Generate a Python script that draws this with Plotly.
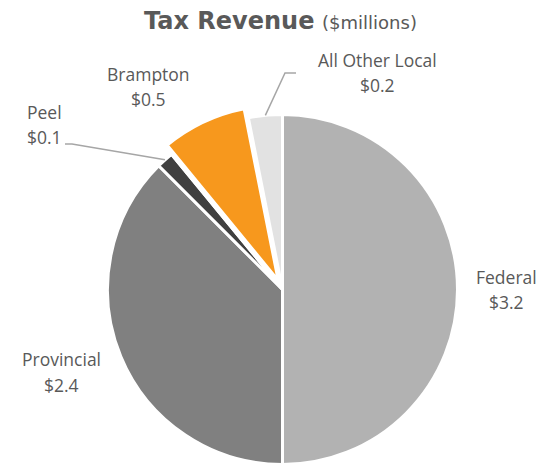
import math
import plotly.graph_objects as go

# ---- data ----
categories = ["Federal", "Provincial", "Peel", "Brampton", "All Other Local"]
values = [3.2, 2.4, 0.1, 0.5, 0.2]
value_labels = ["$3.2", "$2.4", "$0.1", "$0.5", "$0.2"]
colors = ["#B2B2B2", "#808080", "#404040", "#F7981D", "#E2E2E2"]
exploded = "Brampton"

W, H = 541, 467
CX, CY, R = 282.5, 289.5, 175.0
PULL_PX = 10.0
TEXT = "#595959"
FONT = "Open Sans, Segoe UI, sans-serif"

def px(x):
    return x / W

def py(y):
    return 1 - y / H

def domain(cx, cy, r):
    return dict(x=[px(cx - r), px(cx + r)], y=[py(cy + r), py(cy - r)])

total = sum(values)
angles = []
acc = 0.0
for v in values:
    a0 = acc / total * 360
    acc += v
    a1 = acc / total * 360
    angles.append((a0, a1))

def edge_point(i, r=R, cx=CX, cy=CY):
    a0, a1 = angles[i]
    m = math.radians((a0 + a1) / 2)
    return cx + r * math.sin(m), cy - r * math.cos(m)

ei = categories.index(exploded)
em = math.radians(sum(angles[ei]) / 2)
ecx = CX + PULL_PX * math.sin(em)
ecy = CY - PULL_PX * math.cos(em)

base_colors = [c if n != exploded else "rgba(0,0,0,0)" for n, c in zip(categories, colors)]
top_colors = [c if n == exploded else "rgba(0,0,0,0)" for n, c in zip(categories, colors)]
top_lines = ["white" if n == exploded else "rgba(0,0,0,0)" for n in categories]

fig = go.Figure()
fig.add_trace(go.Pie(
    labels=categories, values=values, sort=False, direction="clockwise", rotation=0,
    marker=dict(colors=base_colors, line=dict(color="white", width=3)),
    textinfo="none", hoverinfo="skip", showlegend=False,
    domain=domain(CX, CY, R),
))
fig.add_trace(go.Pie(
    labels=categories, values=values, sort=False, direction="clockwise", rotation=0,
    marker=dict(colors=top_colors, line=dict(color=top_lines, width=3)),
    textinfo="none", hoverinfo="skip", showlegend=False,
    domain=domain(ecx, ecy, R),
))

label_pos = {
    "Federal": (506, 277, 302),
    "Provincial": (62, 359, 385),
    "Peel": (44, 112, 137),
    "Brampton": (148, 74, 99),
    "All Other Local": (377, 60, 85),
}
annotations = []
for name, val in zip(categories, value_labels):
    x, y1, y2 = label_pos[name]
    for txt, yy in ((name, y1), (val, y2)):
        annotations.append(dict(x=px(x), y=py(yy), xref="paper", yref="paper", text=txt,
                                showarrow=False, xanchor="center", yanchor="middle",
                                font=dict(family=FONT, size=17.5, color=TEXT)))

annotations.append(dict(
    x=px(280), y=py(21), xref="paper", yref="paper",
    text="<b>Tax Revenue</b> <span style='font-size:18px'>($millions)</span>",
    showarrow=False, xanchor="center", yanchor="middle",
    font=dict(family="DejaVu Sans, sans-serif", size=24, color=TEXT)))

shapes = []
leaders = {"Peel": [(65, 144), (72, 144)], "All Other Local": [(296, 73), (285, 73)]}
for name, pts in leaders.items():
    i = categories.index(name)
    ex, ey = edge_point(i)
    p = pts + [(ex, ey)]
    path = "M " + " L ".join(f"{px(a):.5f},{py(b):.5f}" for a, b in p)
    shapes.append(dict(type="path", path=path, xref="paper", yref="paper",
                       line=dict(color="#A6A6A6", width=1.5)))

fig.update_layout(
    width=W, height=H, autosize=False,
    margin=dict(l=0, r=0, t=0, b=0),
    paper_bgcolor="white", plot_bgcolor="white",
    annotations=annotations, shapes=shapes,
)

fig.write_html(
    "out.html",
    config={"displayModeBar": False},
    post_script="document.body.style.margin='0';document.body.style.overflow='hidden';",
)
